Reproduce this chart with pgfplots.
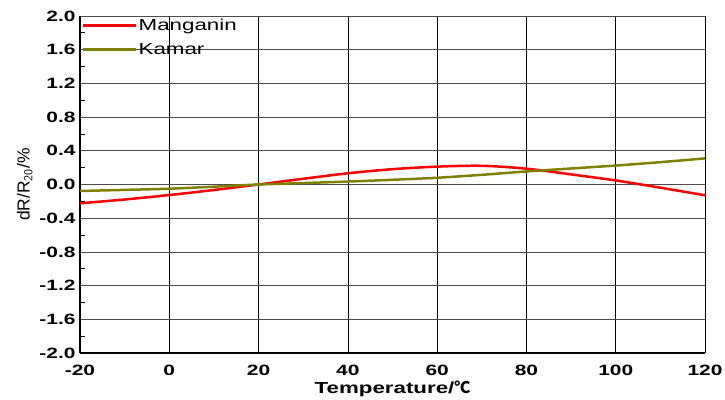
\documentclass[border=0pt]{standalone}
\usepackage{fontspec}
\setmainfont[FakeStretch=1.4]{Liberation Sans}
\newfontfamily\plainsans{Liberation Sans}
\newfontfamily\cjk{Noto Sans CJK SC}
\usepackage{pgfplots}
\pgfplotsset{compat=1.18}
\definecolor{kamar}{RGB}{128,128,0}
\begin{document}
\begin{tikzpicture}
\begin{axis}[
  scale only axis,
  width=625bp, height=337bp,
  xmin=-20, xmax=120,
  ymin=-2, ymax=2,
  xtick={-20,0,...,120},
  ytick={-2,-1.6,...,2.01},
  minor y tick num=1,
  axis x line*=bottom,
  axis y line*=left,
  axis line style={line width=2.2pt},
  tick align=inside,
  major tick length=0pt,
  minor tick length=5.5bp,
  minor tick style={line width=0.8pt,black},
  xmajorgrids, ymajorgrids,
  x grid style={black, line width=0.7pt},
  y grid style={black!70, line width=0.7pt},
  /pgf/number format/assume math mode=true,
  yticklabel style={/pgf/number format/fixed, /pgf/number format/fixed zerofill,
    /pgf/number format/precision=1, xshift=-1bp},
  tick label style={font=\bfseries\fontsize{15}{15}\selectfont},
  xticklabel style={yshift=-9bp},
  xlabel={\bfseries\fontsize{16}{16}\selectfont Temperature/{\cjk ℃}},
  xlabel style={yshift=2.5bp},
  ylabel={\plainsans\fontsize{17.5}{17.5}\selectfont dR/R$_{\mathsf{20}}$/\%},
  ylabel style={yshift=0bp},
  legend style={at={(axis cs:-20,2)}, anchor=north west, draw=none, fill=none,
    font=\fontsize{16}{16}\selectfont, row sep=7bp, inner xsep=0pt, inner ysep=2bp,
    xshift=2bp, yshift=1bp, nodes={inner xsep=1bp}},
  legend cell align=left,
  legend image code/.code={\draw[#1] (0bp,0bp) -- (53bp,0bp);},
]
\addplot[color=red, line width=2.5bp, smooth] coordinates {
(-20,-0.223) (-10,-0.178) (0,-0.125) (10,-0.065) (20,0.0) (30,0.068)
(40,0.133) (50,0.182) (60,0.212) (70,0.222) (80,0.188) (90,0.12)
(100,0.048) (110,-0.038) (120,-0.128)
};
\addlegendentry{Manganin}
\addplot[color=kamar, line width=2.5bp, smooth] coordinates {
(-20,-0.077) (-10,-0.064) (0,-0.05) (10,-0.026) (20,0.0) (30,0.017)
(40,0.035) (50,0.056) (60,0.08) (70,0.115) (80,0.155) (90,0.19)
(100,0.225) (110,0.265) (120,0.31)
};
\addlegendentry{Kamar}
\end{axis}
\pgfresetboundingbox
\path (-80bp,-47bp) rectangle (645bp,353bp);
\end{tikzpicture}
\end{document}
